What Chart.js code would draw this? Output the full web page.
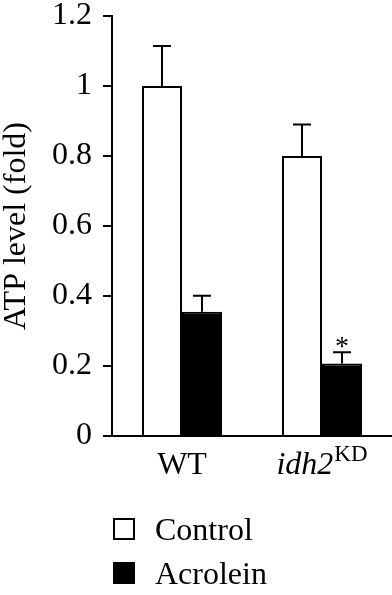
<!DOCTYPE html>
<html>
<head>
<meta charset="utf-8">
<script src="https://cdn.jsdelivr.net/npm/chart.js@4/dist/chart.umd.min.js"></script>
<style>
  html, body { margin: 0; padding: 0; background: #fff; }
  #wrap { width: 392px; height: 595px; }
</style>
</head>
<body>
<div id="wrap"><canvas id="c" width="392" height="595"></canvas></div>
<script>
// ---- data ----
const categories = ['WT', 'idh2'];
const categoryItalic = [false, true];
const categorySuperscript = ['', 'KD'];
const seriesNames = ['Control', 'Acrolein'];
const controlValues = [1.0, 0.80];
const controlErrors = [0.114, 0.09];
const acroleinValues = [0.355, 0.207];
const acroleinErrors = [0.046, 0.032];
const acroleinMarks = ['', '*'];
const controlMarks = ['', ''];
const yTickValues = [0, 0.2, 0.4, 0.6, 0.8, 1, 1.2];
const yTickLabels = ['0', '0.2', '0.4', '0.6', '0.8', '1', '1.2'];
const yAxisTitle = 'ATP level (fold)';

const FONT = "'Liberation Serif', 'Times New Roman', serif";

const errorBarPlugin = {
  id: 'errorBars',
  afterDatasetsDraw(chart) {
    const ctx = chart.ctx;
    const y = chart.scales.y;
    chart.data.datasets.forEach((ds, di) => {
      const meta = chart.getDatasetMeta(di);
      meta.data.forEach((bar, i) => {
        const v = ds.data[i];
        const e = ds.errors[i];
        const top = y.getPixelForValue(v);
        const et = y.getPixelForValue(v + e);
        ctx.save();
        ctx.strokeStyle = '#000';
        ctx.lineWidth = 2;
        ctx.beginPath();
        ctx.moveTo(bar.x, top);
        ctx.lineTo(bar.x, et);
        ctx.moveTo(bar.x - 9, et);
        ctx.lineTo(bar.x + 9, et);
        ctx.stroke();
        const mark = ds.marks[i];
        if (mark) {
          ctx.fillStyle = '#000';
          ctx.font = '28px ' + FONT;
          ctx.textAlign = 'center';
          ctx.textBaseline = 'alphabetic';
          ctx.fillText(mark, bar.x, et + 3);
        }
        ctx.restore();
      });
    });
  }
};

const labelsAndLegendPlugin = {
  id: 'labelsLegend',
  afterDraw(chart) {
    const ctx = chart.ctx;
    const x = chart.scales.x;
    ctx.save();
    ctx.fillStyle = '#000';
    ctx.textBaseline = 'alphabetic';
    ctx.textAlign = 'left';
    const baseY = 474;
    categories.forEach((cat, i) => {
      const cx = x.getPixelForTick(i);
      const mainFont = (categoryItalic[i] ? 'italic ' : '') + '32px ' + FONT;
      const supFont = '23px ' + FONT;
      ctx.font = mainFont;
      const w1 = ctx.measureText(cat).width;
      ctx.font = supFont;
      const sup = categorySuperscript[i];
      const w2 = sup ? ctx.measureText(sup).width + 1 : 0;
      const start = cx - (w1 + w2) / 2;
      ctx.font = mainFont;
      ctx.fillText(cat, start, baseY);
      if (sup) {
        ctx.font = supFont;
        ctx.fillText(sup, start + w1 + 1, baseY - 13);
      }
    });
    // legend
    const legendY = [529, 573];
    chart.data.datasets.forEach((ds, di) => {
      const cy = legendY[di];
      ctx.fillStyle = ds.backgroundColor;
      ctx.fillRect(114, cy - 10, 20, 20);
      ctx.strokeStyle = '#000';
      ctx.lineWidth = 2;
      ctx.strokeRect(114, cy - 10, 20, 20);
      ctx.fillStyle = '#000';
      ctx.font = '32px ' + FONT;
      ctx.fillText(ds.label, 155, cy + 11);
    });
    ctx.restore();
  }
};

new Chart(document.getElementById('c'), {
  type: 'bar',
  data: {
    labels: categories,
    datasets: [
      { label: seriesNames[0], data: controlValues, errors: controlErrors, marks: controlMarks,
        backgroundColor: '#ffffff', borderColor: '#000', borderWidth: 2, borderSkipped: 'bottom' },
      { label: seriesNames[1], data: acroleinValues, errors: acroleinErrors, marks: acroleinMarks,
        backgroundColor: '#000000', borderColor: '#000', borderWidth: 2, borderSkipped: 'bottom' }
    ]
  },
  options: {
    responsive: false,
    animation: false,
    devicePixelRatio: 1,
    layout: { padding: { top: 16, left: 0, right: 0, bottom: 0 } },
    datasets: { bar: { categoryPercentage: 80 / 140, barPercentage: 1 } },
    plugins: { legend: { display: false }, tooltip: { enabled: false } },
    scales: {
      x: {
        grid: { display: false, drawTicks: false },
        border: { display: true, color: '#000', width: 2 },
        ticks: { display: false },
        afterFit(s) { s.height = 159; s.paddingLeft = 0; s.paddingRight = 0; }
      },
      y: {
        min: 0, max: 1.2,
        afterBuildTicks(s) { s.ticks = yTickValues.map(v => ({ value: v })); },
        ticks: {
          color: '#000',
          padding: 11,
          font: { family: FONT, size: 32 },
          callback: (v, i) => yTickLabels[i]
        },
        grid: { drawOnChartArea: false, drawTicks: true, tickLength: 9, color: '#000', lineWidth: 2 },
        border: { display: true, color: '#000', width: 2 },
        title: {
          display: true, text: yAxisTitle, color: '#000',
          font: { family: FONT, size: 32, lineHeight: 1 },
          padding: { top: 1, bottom: 0 }
        },
        afterFit(s) { s.width = 112; s.paddingTop = 0; s.paddingBottom = 0; }
      }
    }
  },
  plugins: [errorBarPlugin, labelsAndLegendPlugin]
});
</script>
</body>
</html>
